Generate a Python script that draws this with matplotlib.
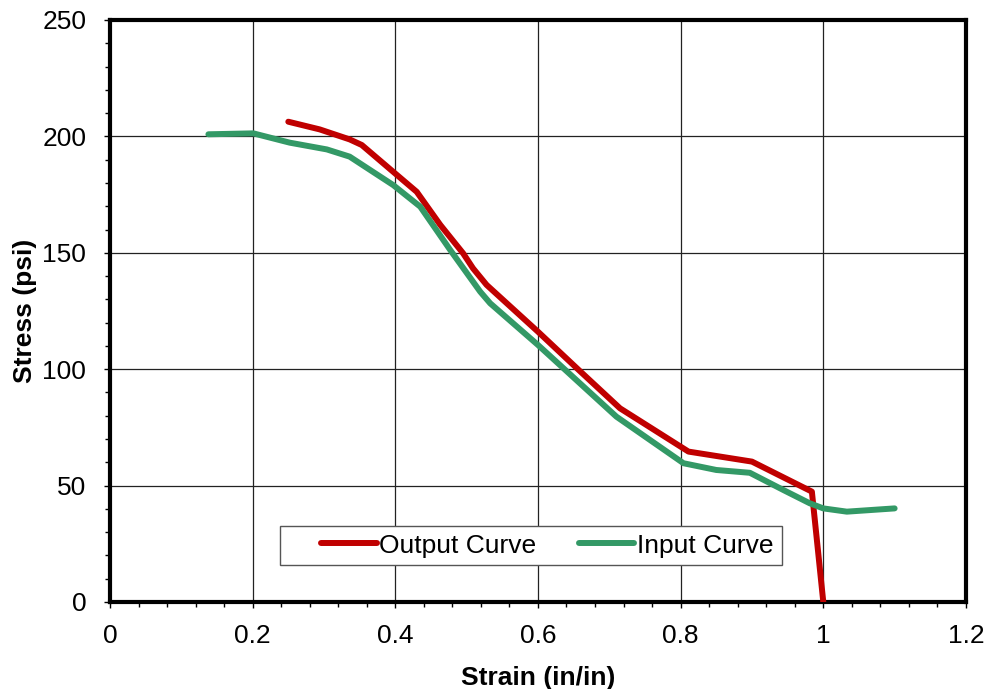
import matplotlib

matplotlib.use("Agg")
import matplotlib.pyplot as plt
from matplotlib.patches import Rectangle
from matplotlib.ticker import MultipleLocator, FuncFormatter

# Output curve (red)
out_strain = [0.250, 0.294, 0.336, 0.353, 0.397, 0.430, 0.463, 0.495, 0.509, 0.528,
              0.600, 0.657, 0.715, 0.811, 0.900, 0.984, 1.000]
out_stress = [206.3, 203.0, 198.7, 196.3, 184.8, 176.2, 162.0, 149.8, 143.3, 136.2,
              116.1, 99.7, 83.2, 64.6, 60.3, 47.4, 0.0]

# Input curve (green)
in_strain = [0.138, 0.201, 0.252, 0.304, 0.336, 0.397, 0.435, 0.477, 0.519, 0.533,
             0.600, 0.710, 0.804, 0.850, 0.897, 0.944, 0.981, 1.000, 1.033, 1.100]
in_stress = [200.9, 201.3, 197.3, 194.4, 191.3, 179.1, 169.8, 151.2, 133.3, 128.3,
             110.4, 79.6, 59.6, 56.7, 55.5, 48.1, 42.4, 40.2, 38.8, 40.2]

plt.rcParams["font.family"] = ["Liberation Sans", "DejaVu Sans"]
FS = 19

fig = plt.figure(figsize=(9.89, 6.89), dpi=100)
ax = fig.add_axes([0.1112, 0.1263, 0.8655, 0.8447])

ax.plot(out_strain, out_stress, color="#C00000", lw=4.3, label="Output Curve",
        solid_capstyle="round", solid_joinstyle="round", zorder=3)
ax.plot(in_strain, in_stress, color="#339966", lw=4.3, label="Input Curve",
        solid_capstyle="round", solid_joinstyle="round", zorder=3)

ax.set_xlim(0, 1.2)
ax.set_ylim(0, 250)
ax.xaxis.set_major_locator(MultipleLocator(0.2))
ax.xaxis.set_minor_locator(MultipleLocator(0.04))
ax.yaxis.set_major_locator(MultipleLocator(50))
ax.yaxis.set_minor_locator(MultipleLocator(10))
ax.xaxis.set_major_formatter(FuncFormatter(lambda v, p: f"{v:.1f}".rstrip("0").rstrip(".")))

ax.grid(True, which="major", color="#222222", lw=0.9)
ax.set_axisbelow(True)
ax.tick_params(which="major", direction="out", length=4.5, width=1, labelsize=FS, pad=11)
ax.tick_params(axis="y", which="major", pad=12.5)
ax.tick_params(which="minor", direction="out", length=3.5, width=1)
for sp in ax.spines.values():
    sp.set_linewidth(3)
    sp.set_color("black")

ax.set_xlabel("Strain (in/in)", fontsize=FS, fontweight="bold", labelpad=13)
ax.set_ylabel("Stress (psi)", fontsize=FS, fontweight="bold", labelpad=4)

# legend box drawn separately (Excel puts extra room on the left)
ax.add_patch(Rectangle((0.1986, 0.0636), 0.5864, 0.067, transform=ax.transAxes,
                       facecolor="white", edgecolor="#555555", lw=1, zorder=4))
leg = ax.legend(loc="center", bbox_to_anchor=(0.511, 0.097), ncol=2, fontsize=FS,
                frameon=False, handlelength=2.1, handletextpad=0.1, columnspacing=1.6,
                borderpad=0.0, borderaxespad=0)
leg.set_zorder(5)

fig.savefig("out.png", dpi=100)
